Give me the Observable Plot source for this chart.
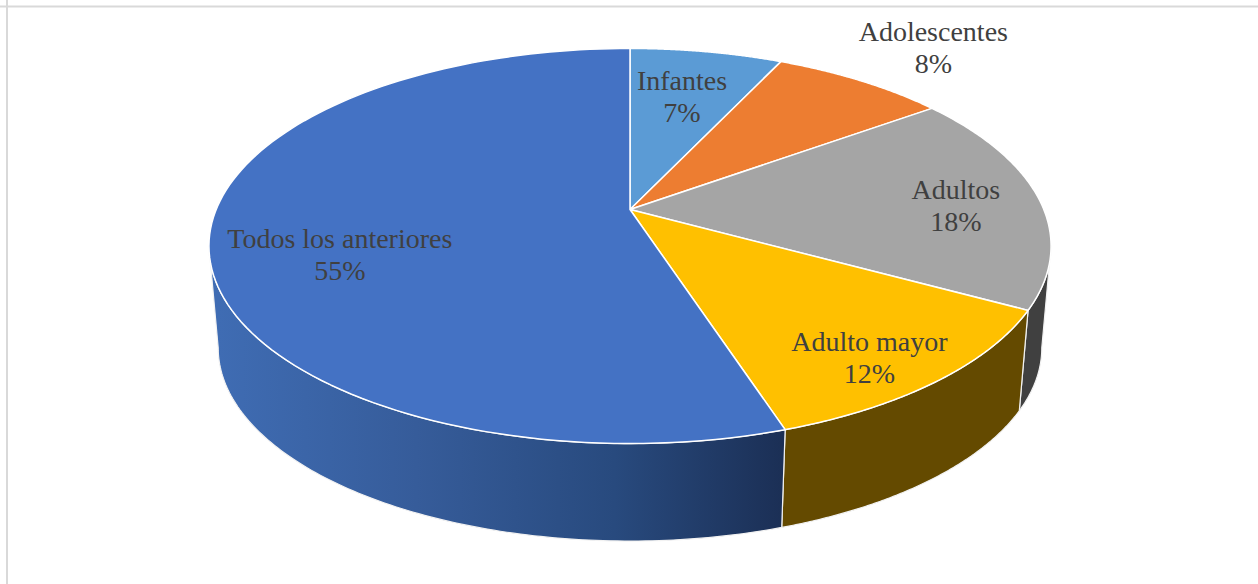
<!DOCTYPE html>
<html>
<head>
<meta charset="utf-8">
<script src="https://cdn.jsdelivr.net/npm/d3@7"></script>
<script src="https://cdn.jsdelivr.net/npm/@observablehq/plot@0.6"></script>
<style>
  html, body { margin: 0; padding: 0; background: #fff; }
  svg { display: block; }
</style>
</head>
<body>
<div id="chart"></div>
<script>
// Share of each age group, clockwise from twelve o'clock
const groups = ["Infantes", "Adolescentes", "Adultos", "Adulto mayor", "Todos los anteriores"];
const shares = [7, 8, 18, 12, 55];

// Slice styling
const topColors = ["#5b9bd5", "#ed7d31", "#a5a5a5", "#ffc000", "#4472c4"];
const wallColors = ["#375e80", "#8e4b1d", "#404040", "#644a00", "url(#wall-blue)"];

// Label placement on the disc: radius and angular nudge (degrees) from the slice's middle
const labelRadius = [0.672, 1.32, 0.79, 0.85, 0.71];
const labelNudge = [-0.5, 1.5, 2.5, 3.1, -10];

// Tilted disc seen in perspective: k is the foreshortening toward the viewer
const k = 0.1848;
const wallDepth = 0.978;   // scale of the lower rim relative to the upper one
const wallDrop = 0.538;    // vertical drop of the lower rim, in disc units

const project = (theta, r = 1, lower = false) => {
  const X = r * Math.sin(theta), Y = r * Math.cos(theta);
  const w = 1 + k * Y;
  const s = lower ? wallDepth : 1;
  return {px: s * X / w, py: s * Y / w - (lower ? wallDrop : 0)};
};

// Cumulative start and end angle of every slice
let running = 0;
const slices = groups.map((group, i) => {
  const a0 = running / 100 * 2 * Math.PI;
  running += shares[i];
  const a1 = running / 100 * 2 * Math.PI;
  return {group, share: shares[i], a0, a1, i};
});

const arcAngles = (a0, a1) => d3.range(0, 121).map((j) => a0 + (a1 - a0) * j / 120);

const tops = slices.flatMap((s) => [
  {...project(0, 0), i: s.i},
  ...arcAngles(s.a0, s.a1).map((t) => ({...project(t), i: s.i})),
  {...project(0, 0), i: s.i}
]);

// The wall runs between the two points where the rim is tangent to the line of sight
const wallStart = Math.acos(-k), wallEnd = 2 * Math.PI - Math.acos(-k);
const walled = slices.filter((s) => s.a1 > wallStart && s.a0 < wallEnd);
const walls = walled.flatMap((s) => {
  const a0 = Math.max(s.a0, wallStart), a1 = Math.min(s.a1, wallEnd);
  const angles = arcAngles(a0, a1);
  return [
    ...angles.map((t) => ({...project(t), i: s.i})),
    ...angles.slice().reverse().map((t) => ({...project(t, 1, true), i: s.i})),
    {...project(a0), i: s.i}
  ];
});

const labels = slices.map((s) => {
  const mid = (s.a0 + s.a1) / 2 + labelNudge[s.i] * Math.PI / 180;
  return {...project(mid, labelRadius[s.i]), text: `${s.group}\n${s.share}%`};
});

const chart = Plot.plot({
  width: 1258,
  height: 584,
  margin: 0,
  x: {domain: [-1, 1], range: [629.5 - 413.8, 629.5 + 413.8], axis: null},
  y: {domain: [-1, 1], range: [209 + 190.8, 209 - 190.8], axis: null},
  marks: [
    // Shaded gradient on the large slice's wall
    () => {
      const ns = "http://www.w3.org/2000/svg";
      const defs = document.createElementNS(ns, "defs");
      const grad = document.createElementNS(ns, "linearGradient");
      grad.setAttribute("id", "wall-blue");
      grad.setAttribute("gradientUnits", "userSpaceOnUse");
      grad.setAttribute("x1", 218); grad.setAttribute("x2", 784);
      grad.setAttribute("y1", 0); grad.setAttribute("y2", 0);
      [[0, "#3f6cb3"], [0.35, "#365c9a"], [0.7, "#284a7e"], [1, "#1b2f55"]].forEach(([o, c]) => {
        const stop = document.createElementNS(ns, "stop");
        stop.setAttribute("offset", o);
        stop.setAttribute("stop-color", c);
        grad.appendChild(stop);
      });
      defs.appendChild(grad);
      return defs;
    },
    // Chart area outline: only its top and left edges fall inside the page
    Plot.ruleY([1.064], {stroke: "#d9d9d9", strokeWidth: 2}),
    Plot.ruleX([-1.5056], {stroke: "#d9d9d9", strokeWidth: 2}),
    ...walled.map((s) =>
      Plot.line(walls.filter((d) => d.i === s.i), {
        x: "px", y: "py", fill: wallColors[s.i], stroke: "#f2f2f2", strokeWidth: 1.2, curve: "linear"
      })
    ),
    ...slices.map((s) =>
      Plot.line(tops.filter((d) => d.i === s.i), {
        x: "px", y: "py", fill: topColors[s.i], stroke: "#fff", strokeWidth: 1.5, curve: "linear"
      })
    ),
    Plot.text(labels, {
      x: "px", y: "py", dy: -2, text: "text",
      fill: "#404040", fontSize: 28, fontFamily: "Liberation Serif", lineHeight: 1.14
    })
  ]
});
document.getElementById("chart").appendChild(chart);
</script>
</body>
</html>
